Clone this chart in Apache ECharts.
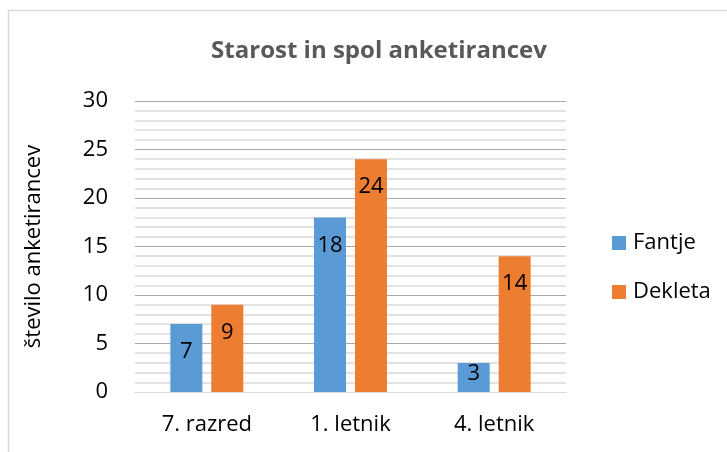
<!DOCTYPE html>
<html><head><meta charset="utf-8">
<script src="https://cdn.jsdelivr.net/npm/echarts@6/dist/echarts.min.js"></script>
<style>html,body{margin:0;padding:0;background:#fff}#c{width:727px;height:452px}</style>
</head><body><div id="c"></div>
<script>
const categories = ['7. razred', '1. letnik', '4. letnik'];
const fantje = [7, 18, 3];
const dekleta = [9, 24, 14];
const seriesNames = ['Fantje', 'Dekleta'];
const titleText = 'Starost in spol anketirancev';
const yAxisName = 'število anketirancev';

const FONT = 'Open Sans';
const chart = echarts.init(document.getElementById('c'));
function mk(vals){
  return vals.map(v => v < 5 ? {value: v, label: {distance: 0}} : v);
}
const lbl = {show: true, position: 'insideTop', distance: 17, color: '#000', fontSize: 22, fontFamily: FONT};
chart.setOption({
  animation: false,
  backgroundColor: '#fff',
  graphic: [{type: 'rect', shape: {x: 8.5, y: 10.5, width: 800, height: 500}, style: {fill: 'none', stroke: '#d9d9d9', lineWidth: 1.5}, silent: true}],
  title: {text: titleText, left: 374, top: 34, textAlign: 'center',
    textStyle: {fontFamily: FONT, fontSize: 24, fontWeight: 'bold', color: '#595959'}},
  legend: {orient: 'vertical', left: 607, top: 227, itemWidth: 14, itemHeight: 14, itemGap: 27,
    icon: 'rect', textStyle: {fontFamily: FONT, fontSize: 22, color: '#000', padding: [0,0,0,2]}, data: seriesNames},
  grid: {left: 135, top: 101, width: 431, height: 291},
  xAxis: {type: 'category', data: categories,
    axisLine: {lineStyle: {color: '#d9d9d9', width: 1}}, axisTick: {show: false},
    axisLabel: {fontFamily: FONT, fontSize: 22, color: '#000', margin: 22}},
  yAxis: {type: 'value', min: 0, max: 30, interval: 5,
    name: yAxisName, nameLocation: 'middle', nameGap: 90, nameRotate: 90,
    nameTextStyle: {fontFamily: FONT, fontSize: 22, color: '#000'},
    axisLabel: {fontFamily: FONT, fontSize: 22, color: '#000', margin: 27},
    axisLine: {show: false}, axisTick: {show: false},
    splitLine: {lineStyle: {color: '#a6a6a6', width: 1}},
    minorTick: {show: false, splitNumber: 5},
    minorSplitLine: {show: true, lineStyle: {color: '#d9d9d9', width: 1.5}}},
  series: [
    {name: seriesNames[0], type: 'bar', data: mk(fantje), barWidth: 32, barGap: '28%', itemStyle: {color: '#5B9BD5'}, label: lbl},
    {name: seriesNames[1], type: 'bar', data: mk(dekleta), barWidth: 32, barGap: '28%', itemStyle: {color: '#ED7D31'}, label: lbl}
  ]
});
</script></body></html>
